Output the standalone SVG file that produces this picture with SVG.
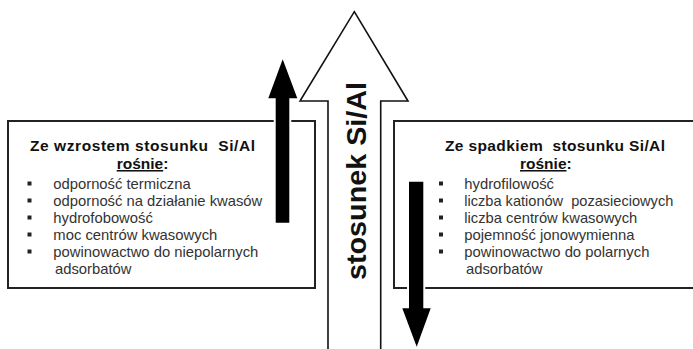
<svg xmlns="http://www.w3.org/2000/svg" width="693" height="349" viewBox="0 0 693 349">
<style>
.box{fill:#fff;stroke:#222;stroke-width:2}
.title{font-family:"Liberation Sans",Arial,sans-serif;font-weight:bold;font-size:15.5px;fill:#111}
.item{font-family:"Liberation Sans",Arial,sans-serif;font-size:14.8px;fill:#333}
.bul{fill:#222}
.blk{fill:#000;stroke:#fff;stroke-width:4;paint-order:stroke}
.hollow{fill:#fff;stroke:#111;stroke-width:1.6;stroke-linejoin:miter}
.vert{font-family:"Liberation Sans",Arial,sans-serif;font-weight:bold;font-size:27px;fill:#111}
</style>
<rect width="693" height="349" fill="#fff"/>
<g id="arrow-main">
<polygon class="hollow" points="354.3,11.7 408,101 380.7,101 380.7,352 328,352 328,101 300,101"/>
<text class="vert" transform="translate(366,280) rotate(-90)" textLength="198" lengthAdjust="spacingAndGlyphs">stosunek Si/Al</text>
</g>
<g id="box-left">
<rect class="box" x="8" y="121" width="307" height="167"/>
<text class="title" x="30" y="150.7" textLength="225" lengthAdjust="spacing" xml:space="preserve">Ze wzrostem stosunku  Si/Al</text>
<text class="title" x="116.7" y="169"><tspan text-decoration="underline">rośnie</tspan>:</text>
<rect class="bul" x="27.5" y="181.5" width="4" height="4"/>
<rect class="bul" x="27.5" y="198.5" width="4" height="4"/>
<rect class="bul" x="27.5" y="215.5" width="4" height="4"/>
<rect class="bul" x="27.5" y="232.5" width="4" height="4"/>
<rect class="bul" x="27.5" y="249.5" width="4" height="4"/>
<text class="item" x="53.3" y="189">odporność termiczna</text>
<text class="item" x="53.3" y="206" textLength="209" lengthAdjust="spacingAndGlyphs">odporność na działanie kwasów</text>
<text class="item" x="53.3" y="223">hydrofobowość</text>
<text class="item" x="53.3" y="240" textLength="164" lengthAdjust="spacingAndGlyphs">moc centrów kwasowych</text>
<text class="item" x="53.3" y="257" textLength="205" lengthAdjust="spacingAndGlyphs">powinowactwo do niepolarnych</text>
<text class="item" x="55" y="274">adsorbatów</text>
</g>
<g id="box-right">
<rect class="box" x="394" y="121" width="310" height="167"/>
<text class="title" x="445" y="150.7" textLength="220" lengthAdjust="spacing" xml:space="preserve">Ze spadkiem  stosunku Si/Al</text>
<text class="title" x="520" y="169"><tspan text-decoration="underline">rośnie</tspan>:</text>
<rect class="bul" x="439" y="181.5" width="4" height="4"/>
<rect class="bul" x="439" y="198.5" width="4" height="4"/>
<rect class="bul" x="439" y="215.5" width="4" height="4"/>
<rect class="bul" x="439" y="232.5" width="4" height="4"/>
<rect class="bul" x="439" y="249.5" width="4" height="4"/>
<text class="item" x="464.3" y="189">hydrofilowość</text>
<text class="item" x="464.3" y="206" textLength="209" lengthAdjust="spacingAndGlyphs" xml:space="preserve">liczba kationów  pozasieciowych</text>
<text class="item" x="464.3" y="223" textLength="173" lengthAdjust="spacingAndGlyphs">liczba centrów kwasowych</text>
<text class="item" x="464.3" y="240">pojemność jonowymienna</text>
<text class="item" x="464.3" y="257">powinowactwo do polarnych</text>
<text class="item" x="466" y="274">adsorbatów</text>
</g>
<g id="connectors">
<polygon id="arrow-up" class="blk" points="282.7,59.3 297.3,98.3 289.3,98.3 289.3,222.7 275.7,222.7 275.7,98.3 268.3,98.3"/>
<polygon id="arrow-down" class="blk" points="409,181.7 423.3,181.7 423.3,308.3 430.7,308.3 416.7,346.7 402.3,308.3 409,308.3"/>
</g>
</svg>
